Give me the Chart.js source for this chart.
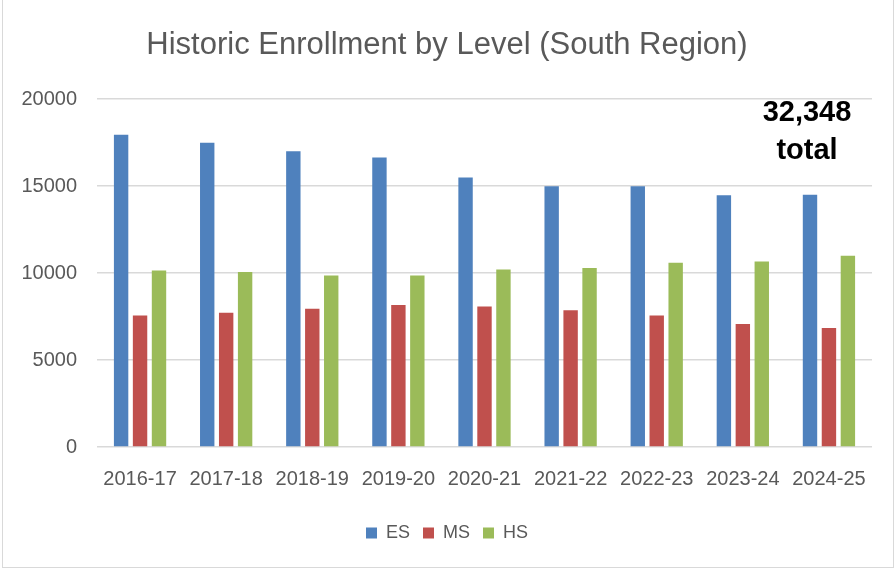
<!DOCTYPE html>
<html>
<head>
<meta charset="utf-8">
<script src="https://cdn.jsdelivr.net/npm/chart.js@4.4.1/dist/chart.umd.min.js"></script>
<style>
  html, body { margin: 0; padding: 0; background: #ffffff; }
  #wrap { width: 896px; height: 570px; position: relative; }
</style>
</head>
<body>
<div id="wrap"><canvas id="c" width="896" height="570"></canvas></div>
<script>
const categories = ["2016-17", "2017-18", "2018-19", "2019-20", "2020-21", "2021-22", "2022-23", "2023-24", "2024-25"];
const esValues = [17950, 17500, 17000, 16650, 15500, 15000, 15000, 14480, 14500];
const msValues = [7560, 7720, 7950, 8160, 8080, 7870, 7560, 7070, 6850];
const hsValues = [10150, 10070, 9860, 9860, 10200, 10290, 10590, 10670, 10998];
const seriesNames = ["ES", "MS", "HS"];
const titleText = "Historic Enrollment by Level (South Region)";
const annotationLines = ["32,348", "total"];

const FONT = "'Liberation Sans', Arial, sans-serif";
const GRAY = "#595959";

const frame = {
  id: "frame",
  beforeDraw(chart) {
    const ctx = chart.ctx;
    ctx.save();
    ctx.fillStyle = "#ffffff";
    ctx.fillRect(0, 0, chart.width, chart.height);
    ctx.strokeStyle = "#d9d9d9";
    ctx.lineWidth = 1;
    ctx.strokeRect(2.5, -2, 891, 569.5);
    ctx.restore();
  }
};

const note = {
  id: "note",
  afterDraw(chart) {
    const ctx = chart.ctx;
    const a = chart.chartArea;
    ctx.save();
    ctx.fillStyle = "#000000";
    ctx.font = "bold 29px " + FONT;
    ctx.textAlign = "center";
    ctx.textBaseline = "middle";
    const cx = a.right - 65;
    ctx.fillText(annotationLines[0], cx, a.top + 14);
    ctx.fillText(annotationLines[1], cx, a.top + 52);
    ctx.restore();
  }
};

new Chart(document.getElementById("c"), {
  type: "bar",
  data: {
    labels: categories,
    datasets: [
      { label: seriesNames[0], data: esValues, backgroundColor: "#4F81BD" },
      { label: seriesNames[1], data: msValues, backgroundColor: "#C0504D" },
      { label: seriesNames[2], data: hsValues, backgroundColor: "#9BBB59" }
    ]
  },
  options: {
    responsive: false,
    animation: false,
    devicePixelRatio: 1,
    layout: { padding: { left: 22, right: 24, top: 0, bottom: 18 } },
    datasets: { bar: { categoryPercentage: 0.66, barPercentage: 0.76 } },
    scales: {
      x: {
        grid: { display: false, drawTicks: false },
        border: { display: false },
        ticks: { color: GRAY, font: { family: FONT, size: 20 }, padding: 20, maxRotation: 0, autoSkip: false }
      },
      y: {
        min: 0, max: 20000,
        afterFit: (s) => { s.width = 75; },
        grid: { color: "#d9d9d9", lineWidth: 1.5, drawTicks: false },
        border: { display: false },
        ticks: { stepSize: 5000, color: GRAY, font: { family: FONT, size: 20 }, padding: 20,
                 callback: (v) => String(v) }
      }
    },
    plugins: {
      title: {
        display: true, text: titleText, color: GRAY,
        font: { family: FONT, size: 31, weight: "normal" },
        padding: { top: 27, bottom: 35 }
      },
      legend: {
        position: "bottom",
        labels: { color: GRAY, font: { family: FONT, size: 18 }, boxWidth: 11, boxHeight: 11, padding: 13 },
      },
      tooltip: { enabled: false }
    }
  },
  plugins: [frame, note]
});
</script>
</body>
</html>
